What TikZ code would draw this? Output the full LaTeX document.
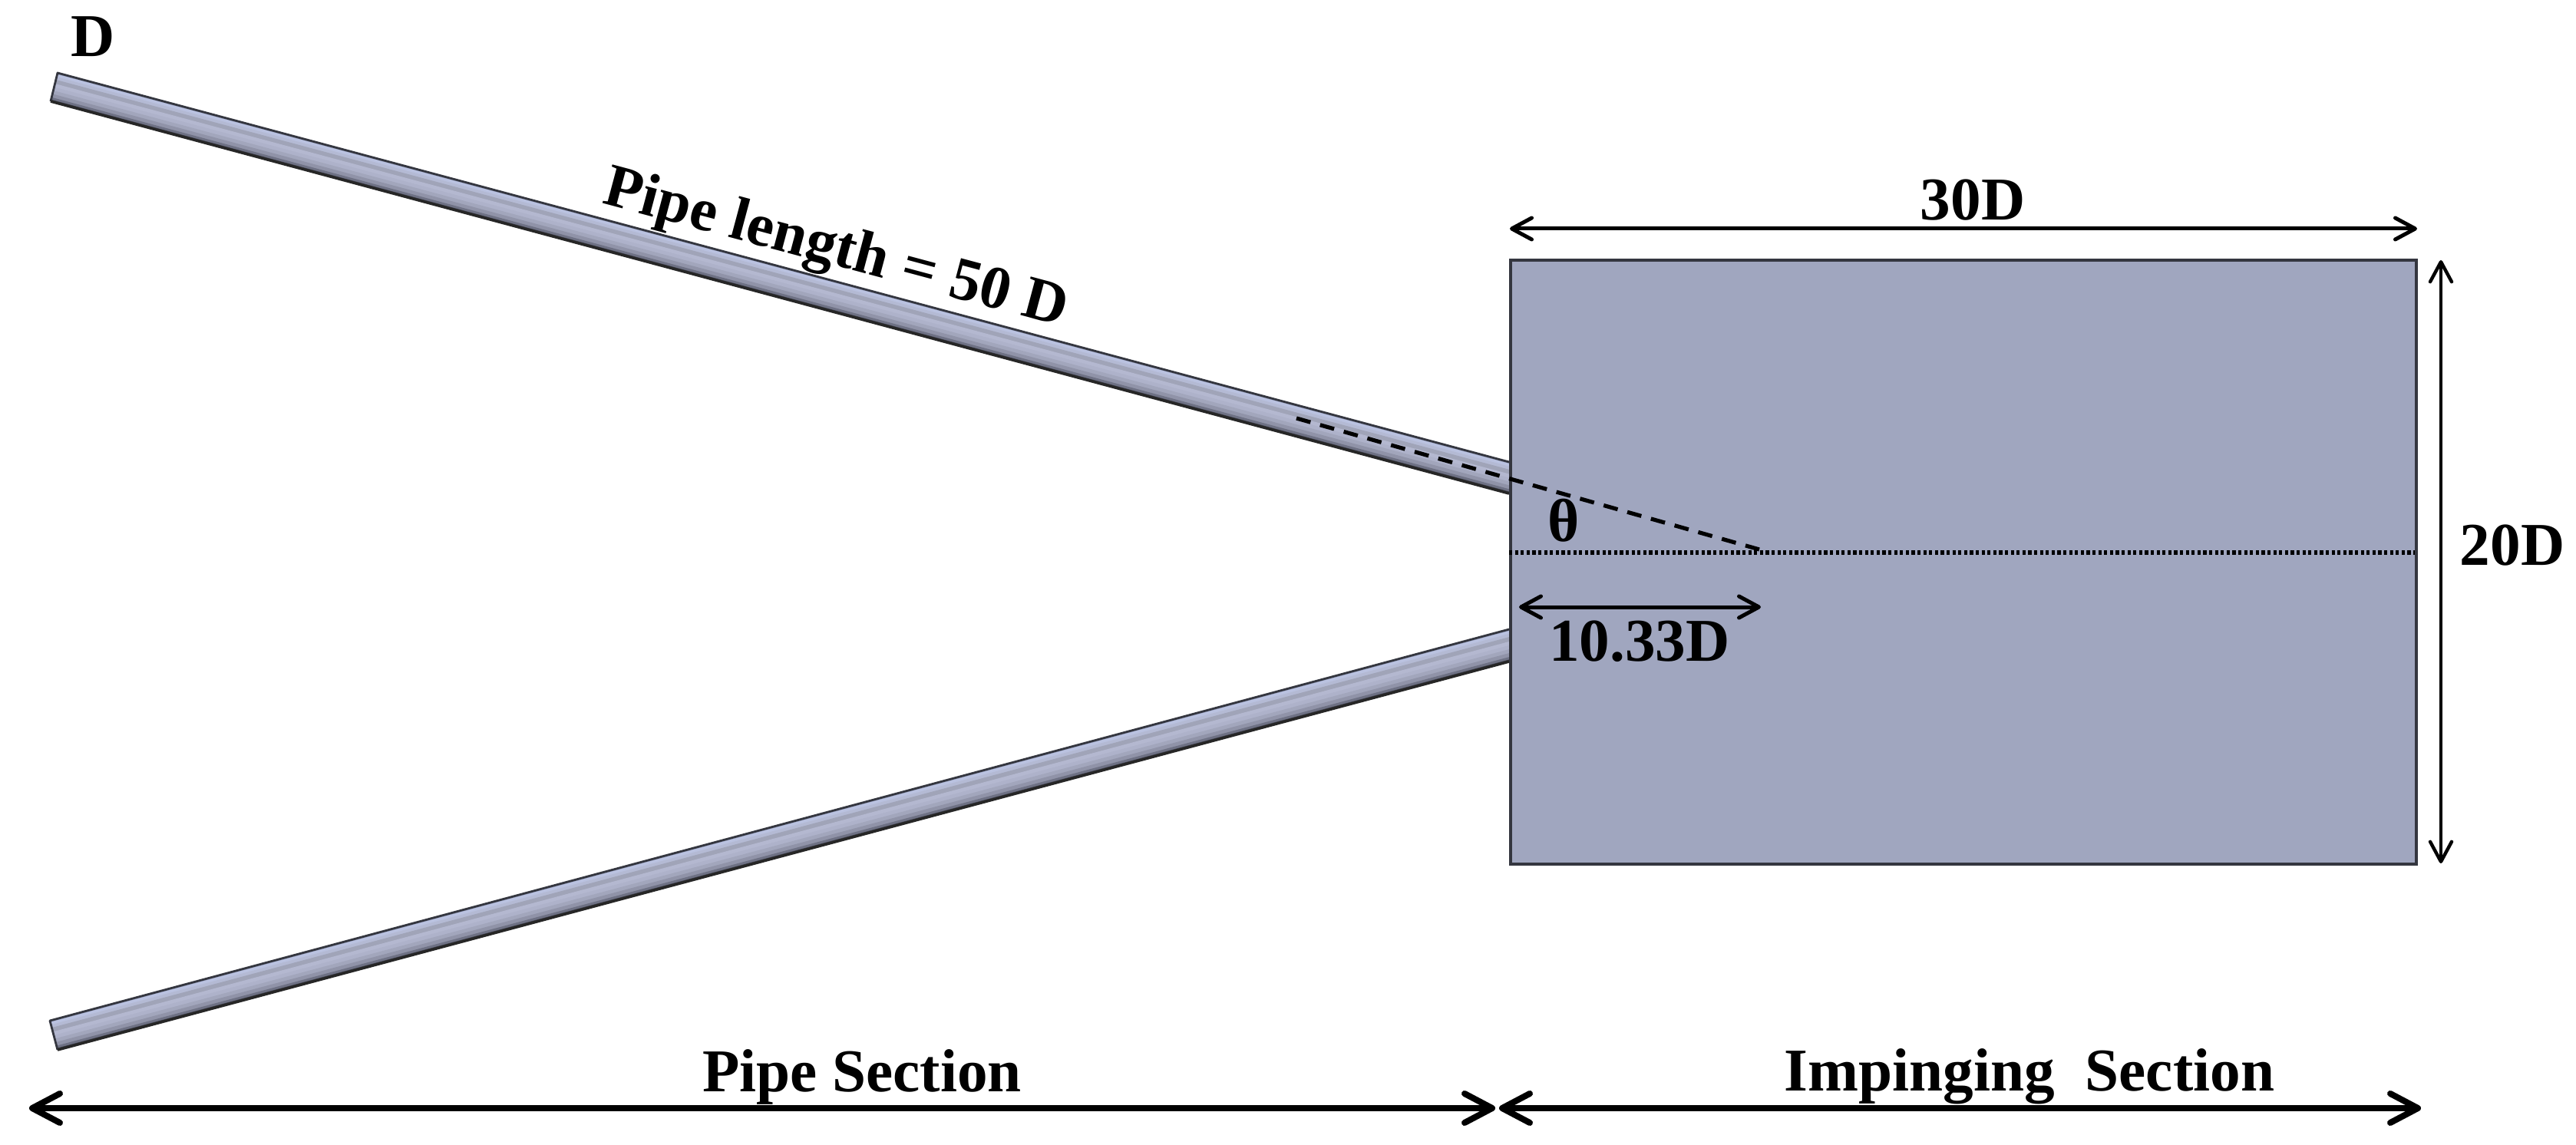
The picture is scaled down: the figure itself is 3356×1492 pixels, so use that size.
\documentclass[tikz,border=0pt]{standalone}
\usepackage{fontspec}
\setmainfont{Liberation Serif}
\usetikzlibrary{calc,arrows.meta}
\definecolor{boxfill}{HTML}{A0A6BF}
\definecolor{boxedge}{HTML}{34363F}
\tikzset{
  lbl/.style={font=\fontsize{39.6}{41}\selectfont\bfseries,inner sep=0pt,text=black},
  bigdim/.style={line width=4pt,{Straight Barb[length=18pt,width=19pt,line width=4pt,round]}-{Straight Barb[length=18pt,width=19pt,line width=4pt,round]}},
  smalldim/.style={line width=2.5pt,{Straight Barb[length=13pt,width=14pt,line width=2.5pt,round]}-{Straight Barb[length=13pt,width=14pt,line width=2.5pt,round]}},
  vertdim/.style={line width=1.8pt,{Straight Barb[length=13pt,width=14pt,line width=2.2pt,round]}-{Straight Barb[length=13pt,width=14pt,line width=2.2pt,round]}},
  boxstyle/.style={draw=boxedge,fill=boxfill,line width=1.8pt,inner sep=0pt,minimum width=590pt,minimum height=393.5pt,anchor=north west},
  axisdash/.style={line width=2.6pt,dash pattern=on 9.5pt off 6.5pt},
  axisdot/.style={line width=2.6pt,dash pattern=on 2.1pt off 1.7pt},
}
\newcommand{\pipebody}[4]{%
  \foreach \tt/\cc in {0/96A0C0,0.05/BAC2E0,0.14/B4BAD4,0.24/A0A4B8,0.38/B4B8D0,0.5/AEB2CA,0.62/A2A6BC,0.74/9093A8,0.86/6E7184,0.94/3C3D48}{%
    \definecolor{stripcol}{HTML}{\cc}%
    \fill[stripcol] ($(#1)!\tt!(#2)$) -- (#2) -- (#4) -- ($(#3)!\tt!(#4)$) -- cycle;
  }%
  \draw[boxedge,line width=1.4pt,line join=round] (#2) -- (#1) -- (#3);
  \draw[black!85,line width=1.8pt] (#2) -- (#4);
}
\begin{document}
\begin{tikzpicture}[x=0.5pt,y=-0.5pt]
\useasboundingbox (0,0) rectangle (3356,1492);
% upper pipe
\coordinate (ua) at (75,95);
\coordinate (ub) at (66,132);
\coordinate (uc) at (1966,602);
\coordinate (ud) at (1966,643);
\pipebody{ua}{ub}{uc}{ud}
% lower pipe
\coordinate (la) at (65,1330);
\coordinate (lb) at (75,1368);
\coordinate (lc) at (1966,820);
\coordinate (ld) at (1966,862);
\pipebody{la}{lb}{lc}{ld}
% impinging box
\node[boxstyle] (box) at (1966,337) {};
% axis lines
\coordinate (dashstart) at (1689,545);
\coordinate (apex) at (2292,716);
\coordinate (dotleft) at (1966,720);
\coordinate (dotright) at (3146,720);
\draw[axisdash] (dashstart) -- (apex);
\draw[axisdot] (dotleft) -- (dotright);
% dimensions
\coordinate (wl) at (1967,298);
\coordinate (wr) at (3149,298);
\draw[smalldim] (wl) -- (wr);
\coordinate (ht) at (3180,339);
\coordinate (hb) at (3180,1125);
\draw[vertdim] (ht) -- (hb);
\coordinate (ol) at (1979,791);
\coordinate (or) at (2294,791);
\draw[smalldim] (ol) -- (or);
\coordinate (pl) at (38,1444);
\coordinate (pr) at (1948,1444);
\coordinate (il) at (1953,1444);
\coordinate (ir) at (3154,1444);
\draw[bigdim] (pl) -- (pr);
\draw[bigdim] (il) -- (ir);
% labels
\node[lbl] (dlabel) at (121,48) {D};
\node[lbl,rotate=-15,anchor=base] (lenlabel) at (1084,345) {Pipe length = 50 D};
\node[lbl] (wlabel) at (2570,261) {30D};
\node[lbl] (hlabel) at (3273,711) {20D};
\node[lbl] (tlabel) at (2037,678) {θ};
\node[lbl] (olabel) at (2136,836) {10.33D};
\node[lbl] (pipelabel) at (1123,1403) {Pipe Section};
\node[lbl] (implabel) at (2644,1403) {Impinging\ \ Section};
\end{tikzpicture}
\end{document}
